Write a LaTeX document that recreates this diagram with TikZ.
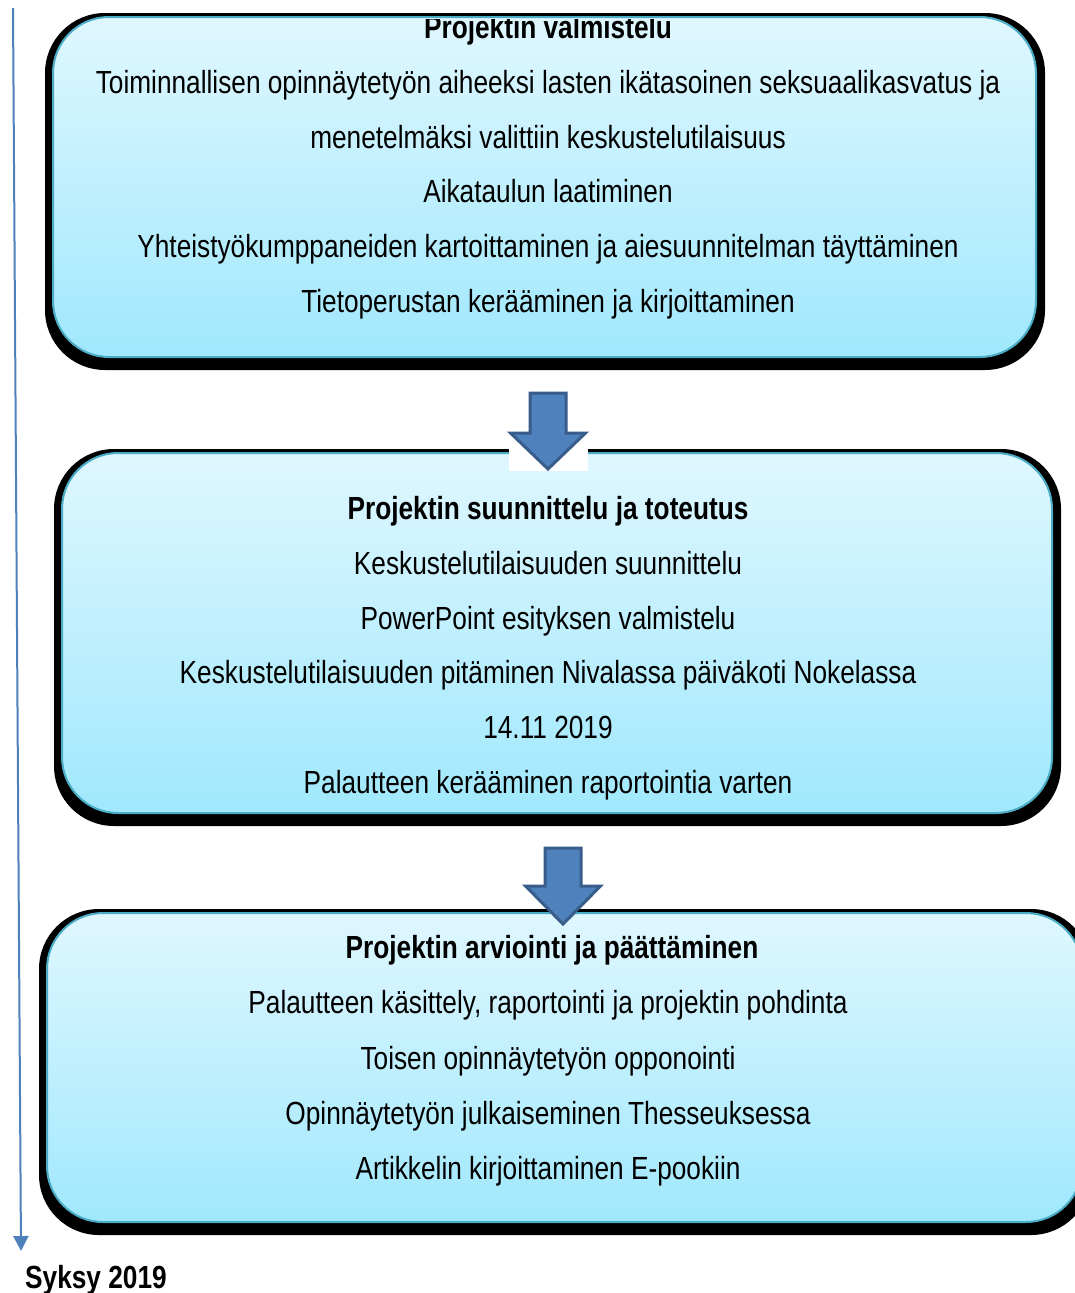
\documentclass[tikz,border=0pt]{standalone}
\usepackage{fontspec}
\setmainfont{Liberation Sans}[FakeStretch=0.82]
\usetikzlibrary{backgrounds,arrows.meta}
\definecolor{boxtop}{HTML}{DFF7FF}
\definecolor{boxbot}{HTML}{A0E8FC}
\definecolor{boxline}{HTML}{4BACC6}
\definecolor{arrfill}{HTML}{4F81BD}
\definecolor{arrline}{HTML}{385D8A}
\tikzset{
  phasebox/.style={rectangle, rounded corners=56pt, inner sep=0pt,
    top color=boxtop, bottom color=boxbot, draw=boxline, line width=2pt},
  txt/.style={anchor=base, inner sep=0pt, font=\fontsize{32}{36}\selectfont},
  ttl/.style={txt, font=\fontsize{32}{36}\selectfont\bfseries},
  blockarrow/.style={fill=arrfill, draw=arrline, line width=3pt, line join=miter},
  timeline/.style={draw=arrfill, line width=2pt, -{Triangle[length=15pt,width=15pt]}},
}
\begin{document}
\begin{tikzpicture}[x=1pt,y=-1pt]
\useasboundingbox (0,0) rectangle (1075,1293);
\clip (0,0) rectangle (1075,1293);

% timeline
\coordinate (tlstart) at (13,8);
\coordinate (tlend) at (21,1251);
\draw[timeline] (tlstart) -- (tlend);
\node[anchor=base west, inner sep=0pt, font=\fontsize{32}{36}\selectfont\bfseries] (autumn) at (25,1288) {Syksy 2019};

% boxes
\node[phasebox, minimum width=983pt, minimum height=340pt] (b1) at (544.5,187) {};
\node[phasebox, minimum width=990pt, minimum height=360pt] (b2) at (557,633) {};
\node[phasebox, minimum width=1035pt, minimum height=309pt] (b3) at (564.5,1067.5) {};

\begin{scope}[on background layer]
\fill[white] (0,0) rectangle (1075,1293);
\foreach \b in {b1,b2,b3}{
  \fill[black, rounded corners=60pt] ([xshift=-7pt,yshift=3pt]\b.north west) rectangle ([xshift=8pt,yshift=-12pt]\b.south east);
}
\end{scope}

% box 1 text
\begin{scope}
\clip (0,19) rectangle (1075,80);
\node[ttl] (t1) at (548,38) {Projektin valmistelu};
\end{scope}
\node[txt] (t1a) at (548,93) {Toiminnallisen opinnäytetyön aiheeksi lasten ikätasoinen seksuaalikasvatus ja};
\node[txt] (t1b) at (548,148) {menetelmäksi valittiin keskustelutilaisuus};
\node[txt] (t1c) at (548,202) {Aikataulun laatiminen};
\node[txt] (t1d) at (548,257) {Yhteistyökumppaneiden kartoittaminen ja aiesuunnitelman täyttäminen};
\node[txt] (t1e) at (548,312) {Tietoperustan kerääminen ja kirjoittaminen};

% box 2 text
\node[ttl] (t2) at (548,519) {Projektin suunnittelu ja toteutus};
\node[txt] (t2a) at (548,574) {Keskustelutilaisuuden suunnittelu};
\node[txt] (t2b) at (548,629) {PowerPoint esityksen valmistelu};
\node[txt] (t2c) at (548,683) {Keskustelutilaisuuden pitäminen Nivalassa päiväkoti Nokelassa};
\node[txt] (t2d) at (548,738) {14.11 2019};
\node[txt] (t2e) at (548,793) {Palautteen kerääminen raportointia varten};

% box 3 text
\node[ttl] (t3) at (552,958) {Projektin arviointi ja päättäminen};
\node[txt] (t3a) at (548,1013) {Palautteen käsittely, raportointi ja projektin pohdinta};
\node[txt] (t3b) at (548,1069) {Toisen opinnäytetyön opponointi};
\node[txt] (t3c) at (548,1124) {Opinnäytetyön julkaiseminen Thesseuksessa};
\node[txt] (t3d) at (548,1179) {Artikkelin kirjoittaminen E-pookiin};

% block arrows
\fill[white] (509,431) rectangle (588,471);
\coordinate (a1) at (548,393);
\draw[blockarrow] (a1) ++(-18,0) -- ++(36,0) -- ++(0,40) -- ++(19.5,0) -- ++(-37.5,36) -- ++(-37.5,-36) -- ++(19.5,0) -- cycle;
\coordinate (a2) at (563,848);
\draw[blockarrow] (a2) ++(-18,0) -- ++(36,0) -- ++(0,38) -- ++(19.5,0) -- ++(-37.5,38) -- ++(-37.5,-38) -- ++(19.5,0) -- cycle;
\end{tikzpicture}
\end{document}
